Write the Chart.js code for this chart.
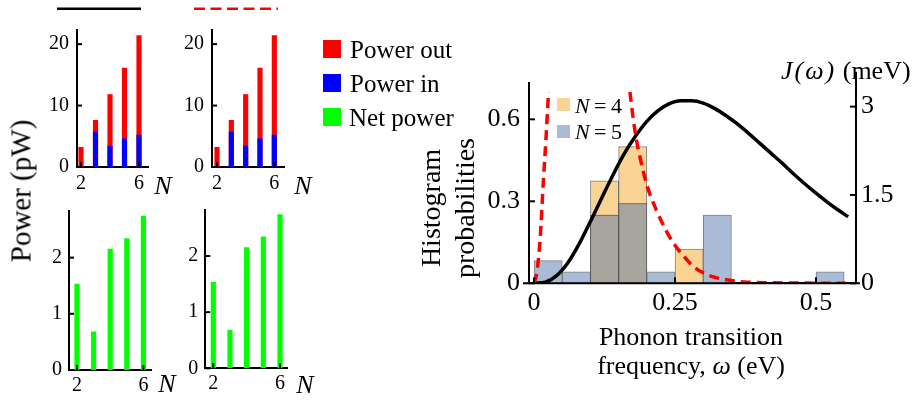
<!DOCTYPE html>
<html>
<head>
<meta charset="utf-8">
<script src="https://cdn.jsdelivr.net/npm/chart.js@4.4.1/dist/chart.umd.min.js"></script>
<style>
  body { margin: 0; background: #fff; }
  #fig { position: relative; width: 924px; height: 403px; overflow: hidden;
         font-family: "Liberation Serif", serif; color: #000; }
  #fig canvas { position: absolute; }
  .txt { position: absolute; white-space: nowrap; line-height: 1; transform: translate(0, -50%); }
  .mid { position: absolute; white-space: nowrap; line-height: 1; transform: translate(-50%, -50%); }
  .rot { position: absolute; white-space: nowrap; line-height: 1; transform: translate(-50%, -50%) rotate(-90deg); }
  .sw { position: absolute; }
</style>
</head>
<body>
<div id="fig">
  <svg width="924" height="20" style="position:absolute;left:0;top:0">
    <line x1="57" y1="8.7" x2="141" y2="8.7" stroke="#000" stroke-width="2.6"/>
    <line x1="194" y1="8.7" x2="278" y2="8.7" stroke="#ff0000" stroke-width="2.6" stroke-dasharray="11 5.5"/>
  </svg>

  <canvas id="outSolid" width="130" height="190" style="left:40px;top:10px"></canvas>
  <canvas id="outDashed" width="130" height="190" style="left:175px;top:10px"></canvas>
  <canvas id="netSolid" width="140" height="211" style="left:30px;top:192px"></canvas>
  <canvas id="netDashed" width="140" height="212" style="left:166px;top:191px"></canvas>
  <canvas id="hist" width="504" height="363" style="left:420px;top:40px"></canvas>

  <div class="rot" style="left:21px;top:191px;font-size:29px">Power (pW)</div>
  <div class="mid" style="left:163px;top:186px;font-size:26px"><i>N</i></div>
  <div class="mid" style="left:303px;top:186px;font-size:26px"><i>N</i></div>
  <div class="mid" style="left:167px;top:384px;font-size:26px"><i>N</i></div>
  <div class="mid" style="left:305px;top:385px;font-size:26px"><i>N</i></div>

  <div class="sw" style="left:323px;top:40px;width:18px;height:18px;background:#ff0000"></div>
  <div class="txt" style="left:350px;top:49px;font-size:25px">Power out</div>
  <div class="sw" style="left:323px;top:74px;width:18px;height:18px;background:#0000ff"></div>
  <div class="txt" style="left:350px;top:83px;font-size:25px">Power in</div>
  <div class="sw" style="left:323px;top:108px;width:18px;height:18px;background:#00ff00"></div>
  <div class="txt" style="left:349px;top:117px;font-size:25px">Net power</div>

  <div class="rot" style="left:431px;top:208px;font-size:28px">Histogram</div>
  <div class="rot" style="left:465px;top:208px;font-size:28px">probabilities</div>

  <div class="sw" style="left:557px;top:98px;width:13px;height:13px;background:#f9d494"></div>
  <div class="txt" style="left:575px;top:106px;font-size:22px"><i>N</i>&thinsp;=&thinsp;4</div>
  <div class="sw" style="left:557px;top:125px;width:13px;height:13px;background:#aabbd6"></div>
  <div class="txt" style="left:575px;top:132px;font-size:22px"><i>N</i>&thinsp;=&thinsp;5</div>

  <div class="txt" style="left:781px;top:71px;font-size:26px"><i style="letter-spacing:2px">J(ω)</i> (meV)</div>

  <div class="mid" style="left:691px;top:337px;font-size:26px">Phonon transition</div>
  <div class="mid" style="left:691px;top:366px;font-size:26px">frequency, <i>ω</i> (eV)</div>
</div>

<script>
// power vs. number of sites N
const nValues = [2, 3, 4, 5, 6];
const nTicks = [2, 6];
const powerOut = [3.2, 7.6, 11.8, 16.1, 21.4];
const powerIn = [0, 5.7, 3.4, 4.6, 5.2];
const netPower = [1.53, 0.68, 2.15, 2.34, 2.74];
const powerTicks = [0, 10, 20];
const netTicks = [0, 1, 2];

// transition frequency histograms (bin centres, eV)
const binCenters = [0.025, 0.075, 0.125, 0.175, 0.225, 0.275, 0.325, 0.375, 0.425, 0.475, 0.525];
const probN4 = [0, 0, 0.375, 0.5, 0, 0.125, 0, 0, 0, 0, 0];
const probN5 = [0.083, 0.042, 0.25, 0.292, 0.042, 0, 0.25, 0, 0, 0, 0.042];
const omegaTicks = [0, 0.25, 0.5];
const probTicks = [0, 0.3, 0.6];
const spectralTicks = [0, 1.5, 3];

// spectral density J(w) in meV
const jOmega = [0, 0.02, 0.04, 0.06, 0.08, 0.10, 0.12, 0.14, 0.16, 0.18, 0.20, 0.22, 0.24, 0.26,
  0.28, 0.30, 0.32, 0.34, 0.36, 0.38, 0.40, 0.42, 0.44, 0.46, 0.48, 0.50, 0.52, 0.54, 0.557];
const jValues = [0, 0.02, 0.13, 0.35, 0.67, 1.05, 1.45, 1.84, 2.20, 2.50, 2.75, 2.93, 3.05, 3.10,
  3.10, 3.06, 2.97, 2.85, 2.71, 2.55, 2.38, 2.21, 2.04, 1.86, 1.69, 1.53, 1.38, 1.24, 1.13];

// dashed curve (null = off the top of the plot)
const dashOmega = [0, 0.005, 0.0106, 0.0166, 0.0213, 0.0256, 0.1, 0.170, 0.176, 0.182, 0.188, 0.200,
  0.2175, 0.235, 0.247, 0.265, 0.2825, 0.306, 0.324, 0.353, 0.371, 0.42, 0.553];
const dashValues = [0, 0.04, 0.158, 0.378, 0.536, 0.70, null, 0.70, 0.60, 0.52, 0.46, 0.36,
  0.265, 0.19, 0.148, 0.10, 0.062, 0.032, 0.02, 0.009, 0.005, 0.002, 0];

const SERIF = "'Liberation Serif', serif";
Chart.defaults.font.family = SERIF;

// short tick marks pointing into the plot
const innerTicks = {
  id: 'innerTicks',
  afterDatasetsDraw(chart, args, opts) {
    const { ctx, chartArea } = chart;
    const len = opts.length || 5;
    ctx.save();
    ctx.strokeStyle = '#000';
    ctx.lineWidth = 2;
    Object.values(chart.scales).forEach(scale => {
      scale.ticks.forEach(t => {
        const p = scale.getPixelForValue(t.value);
        ctx.beginPath();
        if (scale.isHorizontal()) {
          ctx.moveTo(p, chartArea.bottom);
          ctx.lineTo(p, chartArea.bottom - len);
        } else if (scale.position === 'right') {
          ctx.moveTo(chartArea.right, p);
          ctx.lineTo(chartArea.right - len, p);
        } else {
          ctx.moveTo(chartArea.left, p);
          ctx.lineTo(chartArea.left + len, p);
        }
        ctx.stroke();
      });
    });
    ctx.restore();
  }
};

// axis lines running a little past the plot box
const axisExtend = {
  id: 'axisExtend',
  afterDraw(chart, args, opts) {
    const { ctx, chartArea } = chart;
    ctx.save();
    ctx.strokeStyle = '#000';
    ctx.lineWidth = 2;
    ctx.beginPath();
    ctx.moveTo(chartArea.left - opts.left, chartArea.bottom);
    ctx.lineTo(chartArea.right + opts.right, chartArea.bottom);
    ctx.moveTo(chartArea.right, chartArea.top);
    ctx.lineTo(chartArea.right, chartArea.top - opts.top);
    ctx.stroke();
    ctx.restore();
  }
};

function fixedTicks(values) {
  return scale => { scale.ticks = values.map(v => ({ value: v })); };
}

function barSet(values, color) {
  return {
    data: nValues.map((n, i) => ({ x: n, y: values[i] })),
    backgroundColor: color,
    barThickness: 4.5,
    grouped: false
  };
}

function powerPanel(id, datasets, p) {
  new Chart(document.getElementById(id), {
    type: 'bar',
    data: { datasets },
    options: {
      responsive: false,
      animation: false,
      layout: { padding: p.padding },
      plugins: { legend: { display: false }, tooltip: { enabled: false }, innerTicks: { length: 5 } },
      scales: {
        x: {
          type: 'linear', min: p.xMin, max: p.xMax, offset: false,
          grid: { display: false, drawTicks: false },
          border: { color: '#000', width: 2 },
          afterBuildTicks: fixedTicks(nTicks),
          afterFit: s => { s.height = 25; },
          ticks: { color: '#000', padding: p.xPad, maxRotation: 0, autoSkip: false,
                   font: { family: SERIF, size: 20 }, callback: v => String(v) }
        },
        y: {
          min: 0, max: p.yMax,
          grid: { display: false, drawTicks: false },
          border: { color: '#000', width: 2 },
          afterBuildTicks: fixedTicks(p.yTicks),
          afterFit: s => { s.width = p.yWidth; },
          ticks: { color: '#000', padding: p.yPad, font: { family: SERIF, size: 20 },
                   callback: v => String(v) }
        }
      }
    },
    plugins: [innerTicks]
  });
}

function histSet(values, color, order) {
  return {
    type: 'bar',
    data: binCenters.map((c, i) => ({ x: c, y: values[i] > 0 ? values[i] : null })),
    backgroundColor: color,
    borderColor: 'rgba(85, 85, 85, 0.75)',
    borderWidth: 1,
    borderSkipped: false,
    grouped: false,
    barPercentage: 1,
    categoryPercentage: 1,
    yAxisID: 'y',
    order
  };
}

function drawAll() {
  // blue listed first so it is painted over the red
  powerPanel('outSolid', [barSet(powerIn, '#0000ff'), barSet(powerOut, '#ff0000')], {
    padding: { top: 12, right: 22, bottom: 8, left: 0 },
    xMin: 1.724, xMax: 6.62, yMax: 22.3, yTicks: powerTicks, yWidth: 37, yPad: 8, xPad: 5
  });
  powerPanel('outDashed', [barSet(powerIn, '#0000ff'), barSet(powerOut, '#ff0000')], {
    padding: { top: 12, right: 21, bottom: 8, left: 0 },
    xMin: 1.651, xMax: 6.675, yMax: 22.3, yTicks: powerTicks, yWidth: 37, yPad: 8, xPad: 5
  });
  powerPanel('netSolid', [barSet(netPower, '#00ff00')], {
    padding: { top: 12, right: 18.3, bottom: 8, left: 0 },
    xMin: 1.518, xMax: 6.5, yMax: 2.83, yTicks: netTicks, yWidth: 39, yPad: 7, xPad: 3.5
  });
  powerPanel('netDashed', [barSet(netPower, '#00ff00')], {
    padding: { top: 11.7, right: 19, bottom: 9.7, left: 0 },
    xMin: 1.52, xMax: 6.42, yMax: 2.82, yTicks: netTicks, yWidth: 39.3, yPad: 7, xPad: 3.5
  });

  const overlap = probN4.map((v, i) => Math.min(v, probN5[i]));

  new Chart(document.getElementById('hist'), {
    type: 'bar',
    data: {
      datasets: [
        {
          type: 'line',
          data: dashOmega.map((w, i) => ({ x: w, y: dashValues[i] })),
          borderColor: '#ff0000',
          borderWidth: 3.5,
          borderDash: [10, 6],
          pointRadius: 0,
          cubicInterpolationMode: 'monotone',
          spanGaps: false,
          yAxisID: 'y',
          order: 0
        },
        {
          type: 'line',
          data: jOmega.map((w, i) => ({ x: w, y: jValues[i] })),
          borderColor: '#000',
          borderWidth: 3.5,
          pointRadius: 0,
          cubicInterpolationMode: 'monotone',
          yAxisID: 'y2',
          order: 1
        },
        histSet(overlap, '#a8a59e', 2),
        histSet(probN5, '#aabbd6', 3),
        histSet(probN4, '#f9d494', 4)
      ]
    },
    options: {
      responsive: false,
      animation: false,
      layout: { padding: { top: 42.7, right: 0, bottom: 0, left: 0 } },
      plugins: {
        legend: { display: false }, tooltip: { enabled: false },
        innerTicks: { length: 6 },
        axisExtend: { left: 6, right: 4, top: 11 }
      },
      scales: {
        x: {
          type: 'linear', min: -0.009, max: 0.571, offset: false,
          grid: { display: false, drawTicks: false },
          border: { color: '#000', width: 2 },
          afterBuildTicks: fixedTicks(omegaTicks),
          afterFit: s => { s.height = 119.7; },
          ticks: { color: '#000', padding: 4, maxRotation: 0, autoSkip: false,
                   font: { family: SERIF, size: 26 }, callback: v => String(v) }
        },
        y: {
          position: 'left', min: 0, max: 0.734,
          grid: { display: false, drawTicks: false },
          border: { color: '#000', width: 2 },
          afterBuildTicks: fixedTicks(probTicks),
          afterFit: s => { s.width = 109; },
          ticks: { color: '#000', padding: 9, font: { family: SERIF, size: 26 },
                   callback: v => String(v) }
        },
        y2: {
          position: 'right', min: 0, max: 3.406,
          grid: { display: false, drawTicks: false },
          border: { color: '#000', width: 2 },
          afterBuildTicks: fixedTicks(spectralTicks),
          afterFit: s => { s.width = 68; },
          ticks: { color: '#000', padding: 5, font: { family: SERIF, size: 26 },
                   callback: v => String(v) }
        }
      }
    },
    plugins: [innerTicks, axisExtend]
  });
}

document.fonts.load("20px 'Liberation Serif'").then(drawAll, drawAll);
</script>
</body>
</html>
